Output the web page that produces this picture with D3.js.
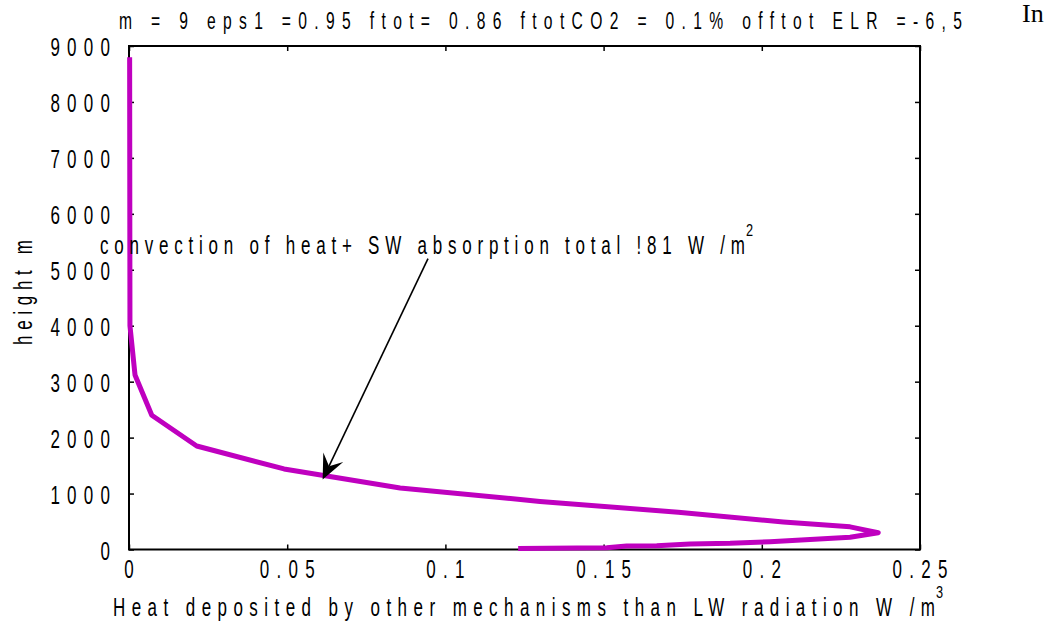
<!DOCTYPE html>
<html>
<head>
<meta charset="utf-8">
<script src="https://cdn.jsdelivr.net/npm/d3@7"></script>
<style>
  html, body { margin: 0; padding: 0; background: #ffffff; }
  svg { display: block; }
  .lbl { font-family: "Liberation Sans", Arial, sans-serif; fill: #000; }
</style>
</head>
<body>
<svg id="chart" width="1056" height="625"></svg>
<script>
// ---- data ----
const heights = [8800, 4000, 3120, 2400, 1850, 1440, 1100, 860, 665, 490, 405, 300, 220, 140, 110, 100, 68, 63, 32, 20];
const values  = [0.0002, 0.0003, 0.0019, 0.0072, 0.0214, 0.049, 0.0857, 0.1299, 0.1736, 0.2068, 0.2279, 0.2368, 0.2279, 0.2026, 0.19, 0.1773, 0.1668, 0.1573, 0.151, 0.123];
const xTicks = [0, 0.05, 0.1, 0.15, 0.2, 0.25];
const yTicks = [0, 1000, 2000, 3000, 4000, 5000, 6000, 7000, 8000, 9000];
const titleText = "m = 9   eps1 =0.95   ftot= 0.86   ftotCO2 = 0.1%   offtot ELR =-6,5";
const annotationText = "convection of heat+ SW  absorption total !81 W /m";
const annotationSup = "2";
const annotationFrom = [0.0945, 5200];
const annotationTo = [0.0612, 1250];
const xLabel = "Heat deposited by other mechanisms than LW radiation  W /m";
const xLabelSup = "3";
const yLabel = "height m";

// ---- layout ----
const pL = 129, pR = 920, pT = 46, pB = 549.5;
const svg = d3.select("#chart");
const x = d3.scaleLinear().domain([0, 0.25]).range([pL, pR]);
const y = d3.scaleLinear().domain([0, 9000]).range([pB, pT]);
const FS = 25, SX = 0.68, LS = 10.7;

// narrow text helper: horizontally compressed Arial-like glyphs
function ntext(sel, o) {
  const sx = o.sx || SX;
  const t = sel.append("text").attr("class", "lbl")
    .attr("transform", `translate(${o.x},${o.y}) rotate(${o.rotate || 0}) scale(${sx},1)`)
    .attr("font-size", o.size || FS)
    .attr("text-anchor", o.anchor || "start")
    .text(o.text);
  if (o.width) t.attr("textLength", o.width / sx).attr("lengthAdjust", "spacing");
  if (o.ls) t.attr("letter-spacing", o.ls + "px");
  if (o.dx) t.attr("dx", o.dx);
  return t;
}

// axes (ticks pointing inward, labels drawn separately from the same scales)
const gB = svg.append("g").attr("transform", `translate(0,${pB})`)
  .call(d3.axisBottom(x).tickValues(xTicks).tickSizeInner(-5).tickSizeOuter(0).tickFormat(""));
const gL = svg.append("g").attr("transform", `translate(${pL},0)`)
  .call(d3.axisLeft(y).tickValues(yTicks).tickSizeInner(-5).tickSizeOuter(0).tickFormat(""));
const gT = svg.append("g").attr("transform", `translate(0,${pT})`)
  .call(d3.axisTop(x).tickValues(xTicks).tickSizeInner(-5).tickSizeOuter(0).tickFormat(""));
const gR = svg.append("g").attr("transform", `translate(${pR},0)`)
  .call(d3.axisRight(y).tickValues(yTicks).tickSizeInner(-5).tickSizeOuter(0).tickFormat(""));
[gB, gL, gT, gR].forEach(g => {
  g.select(".domain").remove();
  g.selectAll(".tick line").attr("stroke", "#000").attr("stroke-width", 1.5);
  g.selectAll(".tick text").remove();
});

const xl = svg.append("g");
xTicks.forEach(d => ntext(xl, { x: x(d), y: 578, text: String(d), anchor: "middle", ls: LS, dx: LS / 2 }));
const yl = svg.append("g");
yTicks.forEach(d => ntext(yl, { x: 110, y: y(d) + 10, text: String(d), anchor: "end", ls: LS, dx: LS }));

// frame
svg.append("rect").attr("x", pL).attr("y", pT).attr("width", pR - pL).attr("height", pB - pT)
  .attr("fill", "none").attr("stroke", "#000").attr("stroke-width", 2);

// curve
const pts = heights.map((h, i) => [values[i], h]);
svg.append("path").datum(pts)
  .attr("d", d3.line().x(d => x(d[0])).y(d => y(d[1])))
  .attr("fill", "none").attr("stroke", "#bf00bf").attr("stroke-width", 5)
  .attr("stroke-linejoin", "round");

// annotation arrow
const x0 = x(annotationFrom[0]), y0 = y(annotationFrom[1]);
const x1 = x(annotationTo[0]), y1 = y(annotationTo[1]);
const ang = Math.atan2(y1 - y0, x1 - x0);
const hl = 27, hw = 0.42, back = 0.55;
svg.append("line").attr("x1", x0).attr("y1", y0)
  .attr("x2", x1 - Math.cos(ang) * hl * back).attr("y2", y1 - Math.sin(ang) * hl * back)
  .attr("stroke", "#000").attr("stroke-width", 1.6);
const pA = [x1 - hl * Math.cos(ang - hw), y1 - hl * Math.sin(ang - hw)];
const pBb = [x1 - hl * Math.cos(ang + hw), y1 - hl * Math.sin(ang + hw)];
const pM = [x1 - hl * back * Math.cos(ang), y1 - hl * back * Math.sin(ang)];
svg.append("path").attr("d", `M${x1},${y1}L${pA[0]},${pA[1]}L${pM[0]},${pM[1]}L${pBb[0]},${pBb[1]}Z`)
  .attr("fill", "#000");

// texts
ntext(svg, { x: 119, y: 29, text: titleText, width: 843, size: 23 });
svg.append("text").attr("x", 1022).attr("y", 22).attr("font-size", 26)
  .attr("font-family", "'Liberation Serif', 'Times New Roman', serif").attr("fill", "#000").text("In");

ntext(svg, { x: 100, y: 254, text: annotationText, width: 645 });
ntext(svg, { x: 746, y: 236, text: annotationSup, size: 17, sx: 0.75 });

ntext(svg, { x: 113, y: 616, text: xLabel, width: 822 });
ntext(svg, { x: 936, y: 598, text: xLabelSup, size: 17, sx: 0.75 });

ntext(svg, { x: 32, y: 345, text: yLabel, width: 105, rotate: -90 });
</script>
</body>
</html>
